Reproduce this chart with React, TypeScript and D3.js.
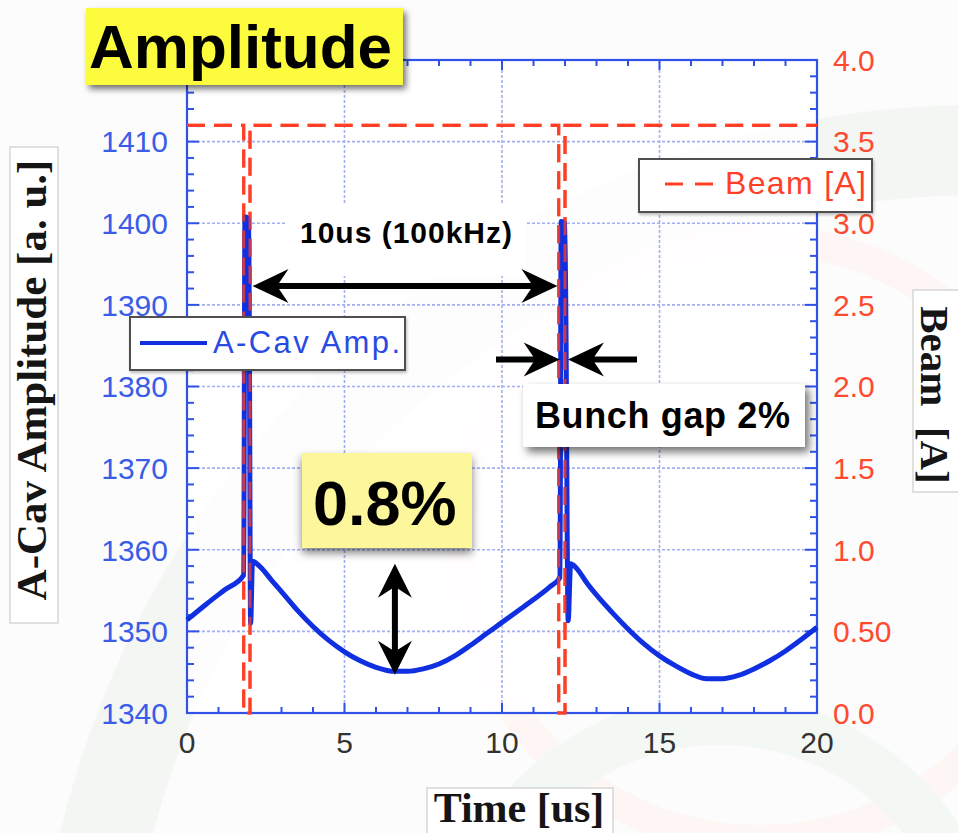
import React from 'react';
import * as d3 from 'd3';

// ---------- data ----------
const timeTicks = [0, 5, 10, 15, 20];
const ampTicks = [1340, 1350, 1360, 1370, 1380, 1390, 1400, 1410];
const beamTicks = [0, 0.5, 1, 1.5, 2, 2.5, 3, 3.5, 4];
const beamTickLabels = ['0.0', '0.50', '1.0', '1.5', '2.0', '2.5', '3.0', '3.5', '4.0'];

const ampTime = [
  0, 0.6, 1.2, 1.8, 1.84, 1.96, 2.02, 2.08, 2.3, 2.7, 3.1, 3.5, 4.0, 4.5, 5.0, 5.5, 6.0, 6.6,
  7.0, 7.5, 8.0, 8.5, 9.0, 9.5, 10.0, 10.5, 11.0, 11.5, 11.84, 11.88, 12.0, 12.1, 12.18, 12.35,
  12.7, 13.1, 13.5, 14.0, 14.5, 15.0, 15.5, 16.0, 16.5, 17.0, 17.5, 18.0, 18.5, 19.0, 19.5, 20.0,
];
const ampValue = [
  1351.4, 1353.3, 1355.1, 1356.9, 1400.8, 1400.5, 1351.0, 1358.6, 1358.0, 1356.2, 1354.4,
  1352.6, 1350.6, 1348.9, 1347.5, 1346.4, 1345.6, 1345.1, 1345.1, 1345.4, 1346.0, 1347.0, 1348.3,
  1349.7, 1351.1, 1352.5, 1353.9, 1355.4, 1356.6, 1400.2, 1400.0, 1351.3, 1358.3, 1357.8, 1355.9,
  1354.0, 1352.3, 1350.3, 1348.5, 1347.0, 1345.8, 1344.8, 1344.2, 1344.2, 1344.6, 1345.4, 1346.4,
  1347.6, 1349.0, 1350.5,
];
const beamTime = [0, 1.8, 1.8, 2.0, 2.0, 11.8, 11.8, 12.0, 12.0, 20];
const beamValue = [3.6, 3.6, 0, 0, 3.6, 3.6, 0, 0, 3.6, 3.6];

// ---------- layout ----------
const W = 958;
const H = 833;
const L = 187;
const R = 817;
const T = 60;
const B = 713;

const SANS = '"Liberation Sans", Arial, Helvetica, sans-serif';
const SERIF = '"Liberation Serif", "Times New Roman", serif';
const AXIS_BLUE = '#3152e6';
const CURVE_BLUE = '#0f2fe0';
const RED = '#ff3f26';

function arrowHead(tx: number, ty: number, dx: number, dy: number, len = 36, half = 17) {
  const px = -dy;
  const py = dx;
  const p = (a: number, b: number) => `${tx + dx * a + px * b},${ty + dy * a + py * b}`;
  return `M${p(0, 0)} L${p(-len, -half)} L${p(-len * 0.68, 0)} L${p(-len, half)} Z`;
}

export default function App() {
  const x = d3.scaleLinear().domain([0, 20]).range([L, R]);
  const yA = d3.scaleLinear().domain([1340, 1420]).range([B, T]);
  const yB = d3.scaleLinear().domain([0, 4]).range([B, T]);

  const ampPts: [number, number][] = ampTime.map((t, i) => [t, ampValue[i]]);
  const beamPts: [number, number][] = beamTime.map((t, i) => [t, beamValue[i]]);
  const ampLine = d3
    .line<[number, number]>()
    .x((d) => x(d[0]))
    .y((d) => yA(d[1]))
    .curve(d3.curveMonotoneX)(ampPts) as string;
  const beamLine = d3
    .line<[number, number]>()
    .x((d) => x(d[0]))
    .y((d) => yB(d[1]))(beamPts) as string;

  const minorX = d3.range(0, 21, 1);
  const minorY = d3.range(1340, 1421, 2);

  const arrY = yA(1392.3);
  const arrL = x(2.08);
  const arrR = x(11.76);
  const gapY = yA(1383.3);
  const vX = x(6.6);
  const vTop = yA(1358.3);
  const vBot = yA(1344.7);

  return (
    <svg
      width={W}
      height={H}
      viewBox={`0 0 ${W} ${H}`}
      style={{ position: 'absolute', left: 0, top: 0, background: '#fff' }}
    >
      <defs>
        <filter id="sh1" x="-20%" y="-20%" width="140%" height="160%">
          <feDropShadow dx="3" dy="4" stdDeviation="3" floodColor="#000" floodOpacity="0.55" />
        </filter>
        <filter id="sh2" x="-20%" y="-20%" width="140%" height="160%">
          <feDropShadow dx="0" dy="5" stdDeviation="4" floodColor="#000" floodOpacity="0.5" />
        </filter>
        <filter id="sh3" x="-20%" y="-20%" width="140%" height="160%">
          <feDropShadow dx="4" dy="5" stdDeviation="4" floodColor="#000" floodOpacity="0.55" />
        </filter>
        <filter id="sh4" x="-20%" y="-20%" width="140%" height="160%">
          <feDropShadow dx="1" dy="2" stdDeviation="1.5" floodColor="#000" floodOpacity="0.25" />
        </filter>
      </defs>

      {/* faint slide background */}
      <rect x={0} y={0} width={W} height={H} fill="#fbfcfb" />
      <circle cx={980} cy={1050} r={900} fill="none" stroke="#f3f6f3" strokeWidth={90} />
      <circle cx={760} cy={540} r={300} fill="none" stroke="#fdf6f4" strokeWidth={30} />
      <circle cx={720} cy={980} r={260} fill="none" stroke="#f4f8f4" strokeWidth={50} />

      {/* plot area */}
      <rect x={L} y={T} width={R - L} height={B - T} fill="#ffffff" opacity={0.8} />

      {/* grid */}
      <g stroke="#8c9cf2" strokeWidth={1.6} strokeDasharray="3,2" opacity={0.8}>
        {timeTicks.slice(1, -1).map((t) => (
          <line key={'gx' + t} x1={x(t)} x2={x(t)} y1={T} y2={B} />
        ))}
        {ampTicks.slice(1).map((v) => (
          <line key={'gy' + v} x1={L} x2={R} y1={yA(v)} y2={yA(v)} />
        ))}
      </g>

      {/* ticks */}
      <g stroke={AXIS_BLUE} strokeWidth={2}>
        {minorX.map((t) => (
          <g key={'tx' + t}>
            <line x1={x(t)} x2={x(t)} y1={B} y2={B - (t % 5 === 0 ? 10 : 6)} />
            <line x1={x(t)} x2={x(t)} y1={T} y2={T + (t % 5 === 0 ? 10 : 6)} />
          </g>
        ))}
        {minorY.map((v) => (
          <g key={'ty' + v}>
            <line x1={L} x2={L + (v % 10 === 0 ? 12 : 7)} y1={yA(v)} y2={yA(v)} />
            <line x1={R} x2={R - (v % 10 === 0 ? 12 : 7)} y1={yA(v)} y2={yA(v)} />
          </g>
        ))}
      </g>

      {/* frame */}
      <rect x={L} y={T} width={R - L} height={B - T} fill="none" stroke={AXIS_BLUE} strokeWidth={2.2} />

      {/* beam (red dashed) */}
      <path d={beamLine} fill="none" stroke={RED} strokeWidth={3.2} strokeDasharray="18,9" />

      {/* amplitude */}
      <path
        d={ampLine}
        fill="none"
        stroke={CURVE_BLUE}
        strokeWidth={5}
        strokeLinejoin="round"
        strokeLinecap="butt"
      />
      <path d={beamLine} fill="none" stroke={RED} strokeWidth={3} strokeDasharray="18,9" opacity={0.75} />

      {/* tick labels */}
      <g fontFamily={SANS} fontSize={30}>
        {timeTicks.map((t) => (
          <text key={'lx' + t} x={x(t)} y={B + 40} textAnchor="middle" fill="#333">
            {t}
          </text>
        ))}
        {ampTicks.map((v) => (
          <text key={'la' + v} x={L - 19} y={yA(v)} dy="0.36em" textAnchor="end" fill="#3a5ce8">
            {v}
          </text>
        ))}
        {beamTicks.map((v, i) => (
          <text key={'lb' + v} x={R + 16} y={yB(v)} dy="0.36em" textAnchor="start" fill="#ff4a30">
            {beamTickLabels[i]}
          </text>
        ))}
      </g>

      {/* axis titles */}
      <rect x={10} y={147} width={48} height={476} fill="#fff" stroke="#d6d6d6" strokeWidth={1.5} />
      <text
        transform="translate(46,380) rotate(-90)"
        textAnchor="middle"
        fontFamily={SERIF}
        fontWeight="bold"
        fontSize={43}
        fill="#151515"
      >
        A-Cav Amplitude [a. u.]
      </text>
      <rect x={913} y={290} width={50} height={202} fill="#fff" stroke="#d6d6d6" strokeWidth={1.5} />
      <text
        transform="translate(921,395) rotate(90)"
        textAnchor="middle"
        fontFamily={SERIF}
        fontWeight="bold"
        fontSize={41}
        fill="#151515"
        style={{ whiteSpace: 'pre' }}
      >
        {'Beam  [A]'}
      </text>
      <rect x={427} y={788} width={186} height={50} fill="#fff" stroke="#d6d6d6" strokeWidth={1.5} />
      <text x={519} y={822} textAnchor="middle" fontFamily={SERIF} fontWeight="bold" fontSize={42} fill="#151515">
        Time [us]
      </text>

      {/* legends */}
      <rect x={130} y={317} width={275} height={53} fill="#fff" stroke="#505050" strokeWidth={2} filter="url(#sh4)" />
      <line x1={140} x2={207} y1={343} y2={343} stroke={CURVE_BLUE} strokeWidth={4} />
      <text x={213} y={353} fontFamily={SANS} fontSize={31} fill="#2a4ae4" textLength={187} lengthAdjust="spacing">
        A-Cav Amp.
      </text>
      <rect x={639} y={159} width={233} height={53} fill="#fff" stroke="#505050" strokeWidth={2} filter="url(#sh4)" />
      <line x1={665} x2={713} y1={184} y2={184} stroke={RED} strokeWidth={3} strokeDasharray="18,12" />
      <text x={725} y={194} fontFamily={SANS} fontSize={32} fill="#ff3f2a" textLength={141} lengthAdjust="spacing">
        Beam [A]
      </text>

      {/* title */}
      <rect x={86} y={8} width={317} height={77} fill="#fdfb3e" filter="url(#sh1)" />
      <text x={89} y={68} fontFamily={SANS} fontWeight="bold" fontSize={62} fill="#000">
        Amplitude
      </text>

      {/* 10us annotation */}
      <rect x={287} y={203} width={239} height={73} fill="#fff" />
      <text x={300} y={243} fontFamily={SANS} fontWeight="bold" fontSize={30} fill="#000" textLength={212} lengthAdjust="spacing">
        10us (100kHz)
      </text>
      <line x1={arrL + 20} x2={arrR - 20} y1={arrY} y2={arrY} stroke="#000" strokeWidth={6} />
      <path d={arrowHead(arrL, arrY, -1, 0)} fill="#000" />
      <path d={arrowHead(arrR, arrY, 1, 0)} fill="#000" />

      {/* bunch gap arrows */}
      <line x1={496} x2={x(11.8) - 15} y1={gapY} y2={gapY} stroke="#000" strokeWidth={6} />
      <path d={arrowHead(x(11.8) + 1, gapY, 1, 0)} fill="#000" />
      <line x1={x(12.0) + 15} x2={637} y1={gapY} y2={gapY} stroke="#000" strokeWidth={6} />
      <path d={arrowHead(x(12.0) + 3, gapY, -1, 0)} fill="#000" />

      <rect x={523} y={384} width={282} height={63} fill="#fff" filter="url(#sh3)" />
      <text x={535} y={428} fontFamily={SANS} fontWeight="bold" fontSize={36} fill="#000" textLength={255} lengthAdjust="spacing">
        Bunch gap 2%
      </text>

      {/* 0.8% annotation */}
      <rect x={302} y={453} width={170} height={95} fill="#fcf79b" filter="url(#sh2)" />
      <text x={313} y={525} fontFamily={SANS} fontWeight="bold" fontSize={63} fill="#000">
        0.8%
      </text>
      <line x1={vX} x2={vX} y1={vTop + 20} y2={vBot - 20} stroke="#000" strokeWidth={6} />
      <path d={arrowHead(vX, vTop, 0, -1, 34, 17)} fill="#000" />
      <path d={arrowHead(vX, vBot, 0, 1, 34, 17)} fill="#000" />
    </svg>
  );
}
